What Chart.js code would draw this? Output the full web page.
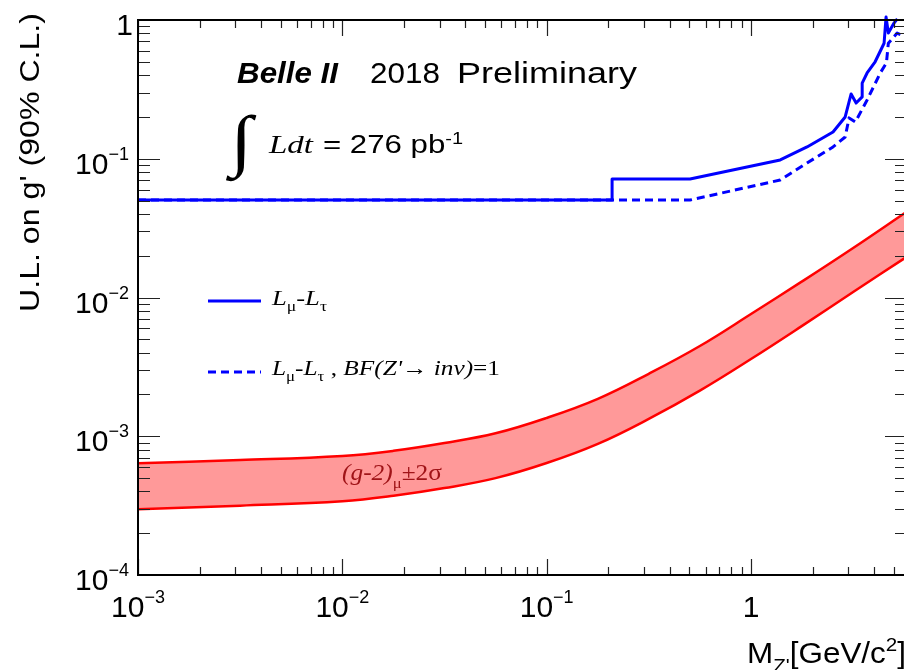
<!DOCTYPE html>
<html>
<head>
<meta charset="utf-8">
<script src="https://cdn.jsdelivr.net/npm/chart.js@4.4.1/dist/chart.umd.min.js"></script>
<style>
  html, body { margin: 0; padding: 0; background: #ffffff; overflow: hidden; }
  canvas { display: block; }
</style>
</head>
<body>
<canvas id="limit-chart" width="912" height="670"></canvas>
<script>
// (g-2)_mu +- 2 sigma band, Z' mass in GeV/c^2
const bandMass = [0.001, 0.00316, 0.01, 0.0178, 0.0316, 0.0562, 0.1, 0.178, 0.316, 0.562, 1, 1.778, 3.162, 5.8];
const bandLower = [2.98e-4, 3.16e-4, 3.4e-4, 3.72e-4, 4.23e-4, 4.99e-4, 6.41e-4, 8.81e-4, 1.333e-3, 2.13e-3, 3.6e-3, 6.24e-3, 1.096e-2, 1.97e-2];
const bandUpper = [6.38e-4, 6.73e-4, 7.21e-4, 7.85e-4, 8.93e-4, 1.05e-3, 1.355e-3, 1.86e-3, 2.82e-3, 4.47e-3, 7.6e-3, 1.306e-2, 2.275e-2, 4.17e-2];

// L_mu - L_tau upper limit
const limitMass = [0.001, 0.209, 0.209, 0.503, 1.39, 1.88, 2.52, 2.89, 3.09, 3.27, 3.5, 3.5, 3.7, 4.05, 4.48, 4.58, 4.7, 5.01, 5.2];
const limitValue = [0.0504, 0.0504, 0.0715, 0.0715, 0.098, 0.1216, 0.156, 0.2, 0.293, 0.252, 0.279, 0.351, 0.415, 0.5, 0.68, 1.05, 0.805, 0.95, 1.02];

// L_mu - L_tau with BF(Z' -> inv) = 1
const invMass = [0.001, 0.503, 1.39, 1.88, 2.52, 2.89, 3.02, 3.24, 3.7, 4.29, 4.6, 4.7, 5.19, 5.7];
const invValue = [0.0504, 0.0504, 0.0703, 0.0932, 0.1216, 0.1435, 0.197, 0.184, 0.265, 0.415, 0.49, 0.68, 0.805, 0.755];

const massRange = [1e-3, 5.8];
const couplingRange = [1e-4, 1];
const xDecades = [-3, -2, -1, 0];
const yDecades = [-4, -3, -2, -1, 0];

const SANS = "'Liberation Sans', Arial, sans-serif";
const SERIF = "'Liberation Serif', 'Times New Roman', serif";

function toPoints(xs, ys) {
  return xs.map((x, i) => ({ x: x, y: ys[i] }));
}

// draw text runs one after another, optionally stretched to a given width
function drawRuns(ctx, runs, x, y, width, align) {
  let total = 0;
  runs.forEach((r) => {
    ctx.font = r.font;
    r.w = ctx.measureText(r.text).width;
    total += r.w;
  });
  const sx = width ? width / total : 1;
  let start = x;
  if (align === "center") start = x - (total * sx) / 2;
  if (align === "right") start = x - total * sx;
  ctx.save();
  ctx.translate(start, y);
  ctx.scale(sx, 1);
  ctx.textAlign = "left";
  ctx.textBaseline = "alphabetic";
  let cx = 0;
  runs.forEach((r) => {
    ctx.font = r.font;
    if (r.color) ctx.fillStyle = r.color;
    ctx.fillText(r.text, cx, r.dy || 0);
    cx += r.w;
  });
  ctx.restore();
}

function powerRuns(e) {
  if (e === 0) return [{ text: "1", font: "30px " + SANS }];
  return [
    { text: "10", font: "30px " + SANS },
    { text: "\u2212" + -e, font: "18px " + SANS, dy: -14 },
  ];
}

const rootStyle = {
  id: "rootStyle",
  beforeDraw(chart) {
    const ctx = chart.ctx;
    ctx.save();
    ctx.fillStyle = "#ffffff";
    ctx.fillRect(0, 0, chart.width, chart.height);
    ctx.restore();
  },
  afterDraw(chart) {
    const { ctx, chartArea: a } = chart;
    const xs = chart.scales.x;
    const ys = chart.scales.y;
    ctx.save();

    // tick marks on all four sides, pointing inwards
    ctx.strokeStyle = "#222";
    ctx.lineWidth = 1.2;
    ctx.beginPath();
    yDecades.forEach((e) => {
      for (let m = 1; m <= 9; m++) {
        const v = m * Math.pow(10, e);
        if (v > couplingRange[1] * 1.001) continue;
        const py = Math.round(ys.getPixelForValue(v)) + 0.5;
        const len = m === 1 ? 22 : 12;
        ctx.moveTo(a.left, py);
        ctx.lineTo(a.left + len, py);
        ctx.moveTo(a.right, py);
        ctx.lineTo(a.right - len, py);
      }
    });
    xDecades.forEach((e) => {
      for (let m = 1; m <= 9; m++) {
        const v = m * Math.pow(10, e);
        if (v > massRange[1]) continue;
        const px = Math.round(xs.getPixelForValue(v)) + 0.5;
        const len = m === 1 ? 16 : 8;
        ctx.moveTo(px, a.bottom);
        ctx.lineTo(px, a.bottom - len);
        ctx.moveTo(px, a.top);
        ctx.lineTo(px, a.top + len);
      }
    });
    ctx.stroke();

    // frame
    ctx.strokeStyle = "#000";
    ctx.lineWidth = 2;
    ctx.strokeRect(a.left, a.top, a.right - a.left, a.bottom - a.top);

    // tick labels
    ctx.fillStyle = "#000";
    yDecades.forEach((e) => {
      const py = ys.getPixelForValue(Math.pow(10, e));
      drawRuns(ctx, powerRuns(e), e === 0 ? 133 : 129, py + 15, null, "right");
    });
    xDecades.forEach((e) => {
      const px = xs.getPixelForValue(Math.pow(10, e));
      drawRuns(ctx, powerRuns(e), px, 617, null, "center");
    });

    // axis titles
    ctx.save();
    ctx.translate(39, 312);
    ctx.rotate(-Math.PI / 2);
    drawRuns(ctx, [{ text: "U.L. on g' (90% C.L.)", font: "28px " + SANS }], 0, 0, 299);
    ctx.restore();
    drawRuns(
      ctx,
      [
        { text: "M", font: "29px " + SANS },
        { text: "Z'", font: "19px " + SANS, dy: 9 },
        { text: "[GeV/c", font: "29px " + SANS },
        { text: "2", font: "19px " + SANS, dy: -12 },
        { text: "]", font: "29px " + SANS },
      ],
      747, 663, 159
    );

    // experiment label
    drawRuns(ctx, [{ text: "Belle II", font: "italic bold 30px " + SANS }], 237, 83, 101);
    drawRuns(ctx, [{ text: "2018", font: "30px " + SANS }], 370, 83, 70);
    drawRuns(ctx, [{ text: "Preliminary", font: "30px " + SANS }], 457, 83, 180);
    drawRuns(ctx, [{ text: "\u222B", font: "bold 68px " + SERIF }], 230, 163, 22);
    drawRuns(ctx, [{ text: "Ldt", font: "italic 26px " + SERIF }], 269, 153, 44);
    drawRuns(
      ctx,
      [
        { text: "= 276 pb", font: "25px " + SANS },
        { text: "-1", font: "16px " + SANS, dy: -9 },
      ],
      323, 153, 140
    );

    // legend
    ctx.strokeStyle = "#0000ff";
    ctx.lineWidth = 3;
    ctx.beginPath();
    ctx.moveTo(208, 301);
    ctx.lineTo(261, 301);
    ctx.stroke();
    ctx.setLineDash([8, 5]);
    ctx.beginPath();
    ctx.moveTo(208, 372);
    ctx.lineTo(261, 372);
    ctx.stroke();
    ctx.setLineDash([]);

    const lmlt = [
      { text: "L", font: "italic 21px " + SERIF },
      { text: "\u03BC", font: "14px " + SERIF, dy: 6 },
      { text: "-", font: "21px " + SERIF },
      { text: "L", font: "italic 21px " + SERIF },
      { text: "\u03C4", font: "14px " + SERIF, dy: 6 },
    ];
    drawRuns(ctx, lmlt, 272, 305, 55);
    drawRuns(
      ctx,
      lmlt.concat([
        { text: " , ", font: "21px " + SERIF },
        { text: "BF(Z'", font: "italic 21px " + SERIF },
        { text: "\u2192 ", font: "21px " + SERIF },
        { text: "inv)", font: "italic 21px " + SERIF },
        { text: "=1", font: "21px " + SERIF },
      ]),
      272, 375, 228
    );

    // band label
    ctx.fillStyle = "#a01418";
    drawRuns(
      ctx,
      [
        { text: "(g-2)", font: "italic 23px " + SERIF },
        { text: "\u03BC", font: "15px " + SERIF, dy: 8 },
        { text: "\u00B12\u03C3", font: "23px " + SERIF },
      ],
      342, 480, 100
    );

    ctx.restore();
  },
};

document.addEventListener("DOMContentLoaded", function () {
  const ctx = document.getElementById("limit-chart").getContext("2d");

  new Chart(ctx, {
    type: "line",
    data: {
      datasets: [
        {
          label: "(g-2) lower",
          data: toPoints(bandMass, bandLower),
          borderColor: "#ff0000",
          borderWidth: 2.5,
          tension: 0.4,
          fill: false,
        },
        {
          label: "(g-2) upper",
          data: toPoints(bandMass, bandUpper),
          borderColor: "#ff0000",
          borderWidth: 2.5,
          tension: 0.4,
          backgroundColor: "rgba(255, 0, 0, 0.4)",
          fill: "-1",
        },
        {
          label: "Lmu-Ltau",
          data: toPoints(limitMass, limitValue),
          borderColor: "#0000ff",
          borderWidth: 3,
          borderJoinStyle: "round",
          fill: false,
          clip: false,
        },
        {
          label: "Lmu-Ltau, BF(Z'->inv)=1",
          data: toPoints(invMass, invValue),
          borderColor: "#0000ff",
          borderWidth: 3,
          borderDash: [8, 5],
          borderJoinStyle: "round",
          fill: false,
        },
      ],
    },
    options: {
      responsive: false,
      animation: false,
      devicePixelRatio: 1,
      layout: { padding: { left: 0, top: 20, right: 5, bottom: 0 } },
      elements: { point: { radius: 0 }, line: { tension: 0 } },
      plugins: { legend: { display: false }, tooltip: { enabled: false } },
      scales: {
        x: {
          type: "logarithmic",
          min: massRange[0],
          max: massRange[1],
          grid: { display: false },
          border: { display: false },
          ticks: { display: false },
          afterFit: function (scale) {
            scale.height = 95;
          },
        },
        y: {
          type: "logarithmic",
          min: couplingRange[0],
          max: couplingRange[1],
          grid: { display: false },
          border: { display: false },
          ticks: { display: false },
          afterFit: function (scale) {
            scale.width = 138;
          },
        },
      },
    },
    plugins: [rootStyle],
  });
});
</script>
</body>
</html>
